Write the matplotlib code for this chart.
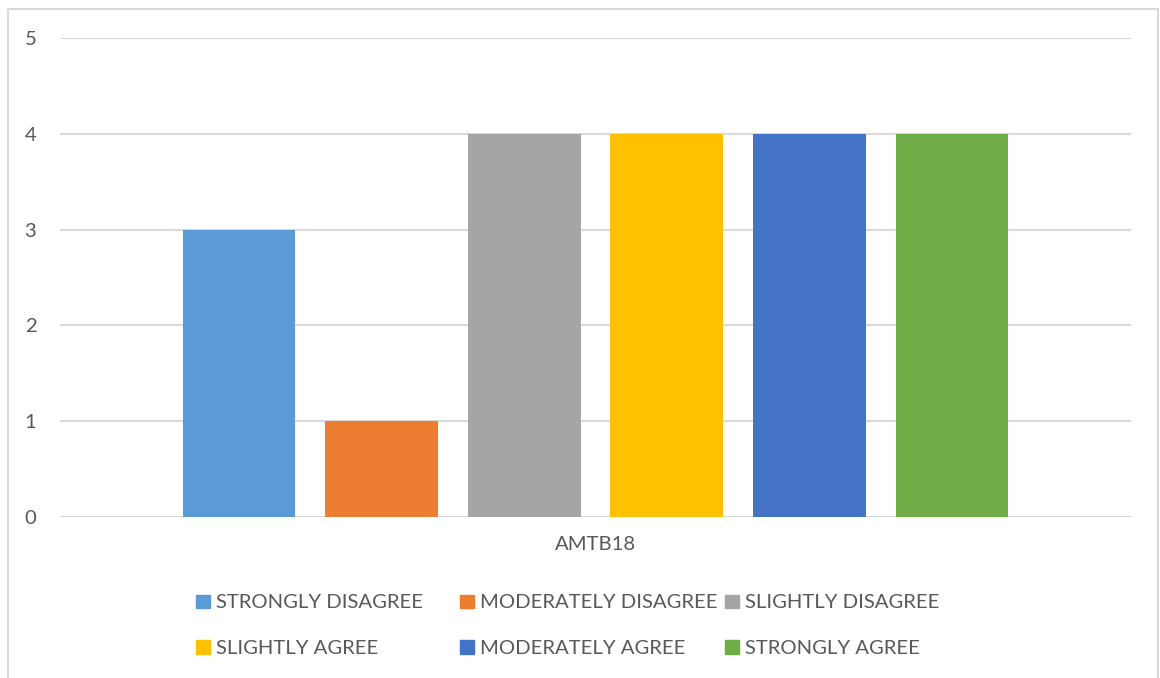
import matplotlib
matplotlib.use("Agg")
import matplotlib.pyplot as plt
from matplotlib.patches import Rectangle
from matplotlib.lines import Line2D

# survey answers for AMTB18
labels = ["STRONGLY DISAGREE", "MODERATELY DISAGREE", "SLIGHTLY DISAGREE",
          "SLIGHTLY AGREE", "MODERATELY AGREE", "STRONGLY AGREE"]
counts = [3, 1, 4, 4, 4, 4]
colors = ["#5B9BD5", "#ED7D31", "#A5A5A5", "#FFC000", "#4472C4", "#70AD47"]
category = "AMTB18"
yticks = [0, 1, 2, 3, 4, 5]

plt.rcParams['font.family'] = ['Lato', 'DejaVu Sans']
txt_col = "#595959"
grid_col = "#D9D9D9"
fs = 14.6

W, H = 1160, 678
fig = plt.figure(figsize=(W / 100, H / 100), dpi=100)
ax = fig.add_axes([60 / W, 161 / H, (1131 - 60) / W, (517 - 38) / H])

x = list(range(len(counts)))
ax.bar(x, counts, width=0.79, color=colors, zorder=3)

ax.set_xlim(-1.255, 6.255)
ax.set_ylim(0, 5)
ax.set_yticks(yticks)
ax.set_yticklabels([str(t) for t in yticks])
ax.set_xticks([2.5])
ax.set_xticklabels([category])
ax.tick_params(axis='y', length=0, pad=17, labelsize=fs, labelcolor=txt_col)
ax.tick_params(axis='x', length=0, pad=14, labelsize=fs, labelcolor=txt_col)
ax.grid(axis='y', color=grid_col, linewidth=1.5, zorder=0)
for s in ax.spines.values():
    s.set_visible(False)

# legend laid out like the spreadsheet one: equal column widths
col_x = [196, 460, 725]
row_y = [601.5, 647]
for i, (lab, c) in enumerate(zip(labels, colors)):
    r, k = divmod(i, 3)
    mx, my = col_x[k], row_y[r]
    fig.add_artist(Rectangle((mx / W, 1 - (my + 6.5) / H), 13.5 / W, 13.5 / H,
                             transform=fig.transFigure, color=c))
    fig.text((mx + 20) / W, 1 - (my + 1) / H, lab, fontsize=fs, color=txt_col,
             va='center', ha='left')

# chart frame
for xs, ys in [([8, 8], [9, 678]), ([8, 1158], [9, 9]), ([1158, 1158], [9, 678])]:
    fig.add_artist(Line2D([v / W for v in xs], [1 - v / H for v in ys],
                          transform=fig.transFigure, color=grid_col, linewidth=1.5))

fig.savefig("out.png", dpi=100, facecolor="white")
